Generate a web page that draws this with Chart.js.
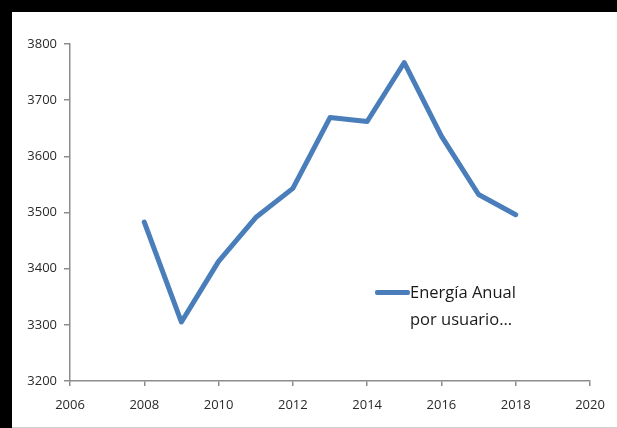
<!DOCTYPE html>
<html>
<head>
<meta charset="utf-8">
<script src="https://cdn.jsdelivr.net/npm/chart.js@4"></script>
<style>
  html, body { margin: 0; padding: 0; background: #fff; }
  #frame {
    position: absolute; left: 0; top: 0; width: 617px; height: 428px;
    background: #000;
  }
  #box {
    position: absolute; left: 12px; top: 12px; width: 605px; height: 415px;
    background: #fff; border-bottom: 1px solid #d0d0d0;
  }
  #legend {
    position: absolute; left: 363px; top: 266px;
    font-family: "Open Sans", sans-serif; font-size: 16.5px; line-height: 27px;
    color: #1a1a1a; display: flex; align-items: flex-start;
  }
  #legend .swatch { width: 35px; height: 5px; border-radius: 2px; margin-top: 12px; }
  #legend .txt { width: 130px; }
</style>
</head>
<body>
<div id="frame"></div>
<div id="box">
  <canvas id="myChart" width="605" height="415"></canvas>
  <div id="legend"></div>
</div>
<script>
// data
const years = [2008, 2009, 2010, 2011, 2012, 2013, 2014, 2015, 2016, 2017, 2018];
const energia = [3483, 3305, 3413, 3491, 3543, 3669, 3662, 3767, 3636, 3532, 3496];
const seriesLabel = "Energía Anual por usuario...";
const xTicks = [2006, 2008, 2010, 2012, 2014, 2016, 2018, 2020];
const yTicks = [3200, 3300, 3400, 3500, 3600, 3700, 3800];

const lineColor = "#4A7EBB";
const axisColor = "#8c8c8c";
const tickFont = { family: "Open Sans", size: 13 };

const ctx = document.getElementById("myChart").getContext("2d");
const chart = new Chart(ctx, {
    type: "line",
    data: {
        datasets: [
            {
                label: seriesLabel,
                data: years.map((y, i) => ({ x: y, y: energia[i] })),
                borderColor: lineColor,
                backgroundColor: lineColor,
                borderWidth: 5,
                pointRadius: 0,
                tension: 0,
                borderJoinStyle: "round",
                borderCapStyle: "round",
            },
        ]
    },
    options: {
        responsive: false,
        animation: false,
        layout: { padding: { top: 32, right: 27, left: 0, bottom: 0 } },
        plugins: { legend: { display: false }, tooltip: { enabled: false } },
        scales: {
            x: {
                type: "linear",
                min: 2006, max: 2020,
                afterBuildTicks: (s) => { s.ticks = xTicks.map(v => ({ value: v })); },
                afterFit: (s) => { s.height = 46; },
                border: { color: axisColor, width: 1.5 },
                grid: { drawOnChartArea: false, drawTicks: true, tickLength: 5, color: axisColor, lineWidth: 1.5 },
                ticks: { font: tickFont, color: "#2a2a2a", padding: 11, maxRotation: 0, callback: v => String(v) },
            },
            y: {
                min: 3200, max: 3800,
                afterBuildTicks: (s) => { s.ticks = yTicks.map(v => ({ value: v })); },
                afterFit: (s) => { s.width = 58; },
                border: { color: axisColor, width: 1.5 },
                grid: { drawOnChartArea: false, drawTicks: true, tickLength: 6, color: axisColor, lineWidth: 1.5 },
                ticks: { font: tickFont, color: "#2a2a2a", padding: 7, callback: v => String(v) },
            },
        }
    }
});

// legend placed inside the plot like the original
const leg = document.getElementById("legend");
chart.data.datasets.forEach(ds => {
    const sw = document.createElement("div");
    sw.className = "swatch";
    sw.style.background = ds.borderColor;
    const t = document.createElement("div");
    t.className = "txt";
    t.textContent = ds.label;
    leg.appendChild(sw);
    leg.appendChild(t);
});
</script>
</body>
</html>
